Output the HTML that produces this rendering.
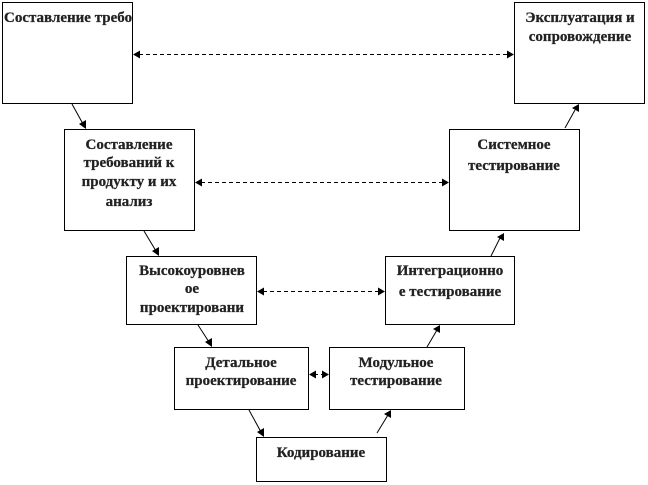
<!DOCTYPE html>
<html lang="ru">
<head>
<meta charset="utf-8">
<style>
html,body{margin:0;padding:0;background:#fff;width:648px;height:485px;overflow:hidden}
svg{display:block}
text{font-family:"Liberation Serif","Noto Serif CJK SC",serif;font-weight:bold;font-size:15px;fill:#222;stroke:#222;stroke-width:.25;text-anchor:middle}
rect{fill:#fff;stroke:#000;stroke-width:1}
line{stroke:#000;stroke-width:1}
.d{stroke-dasharray:4 3}
polygon{fill:#000}
</style>
</head>
<body>
<svg width="648" height="485" viewBox="0 0 648 485" xmlns="http://www.w3.org/2000/svg">
<rect x="2.5" y="2.5" width="130" height="101"/>
<rect x="64.5" y="129.5" width="130" height="101"/>
<rect x="514.5" y="2.5" width="130" height="101"/>
<rect x="449.5" y="129.5" width="130" height="101"/>
<rect x="126.5" y="256.5" width="130" height="68"/>
<rect x="385.5" y="256.5" width="129" height="68"/>
<rect x="174.5" y="347.5" width="134" height="62"/>
<rect x="329.5" y="347.5" width="135" height="62"/>
<rect x="256.5" y="437.5" width="130" height="44"/>

<svg x="3" y="3" width="129" height="40"><text x="1" y="19" style="text-anchor:start">Составление требований</text></svg>
<text x="129" y="149">Составление</text>
<text x="129" y="167">требований к</text>
<text x="129" y="186">продукту и их</text>
<text x="129" y="206">анализ</text>
<text x="580" y="22">Эксплуатация и</text>
<text x="580" y="41">сопровождение</text>
<text x="514" y="149">Системное</text>
<text x="514" y="170">тестирование</text>
<text x="192" y="275">Высокоуровнев</text>
<text x="192" y="293">ое</text>
<text x="192" y="312">проектировани</text>
<text x="450" y="275">Интеграционно</text>
<text x="450" y="296">е тестирование</text>
<text x="241" y="367">Детальное</text>
<text x="241" y="385">проектирование</text>
<text x="396" y="367">Модульное</text>
<text x="396" y="385">тестирование</text>
<text x="321" y="457">Кодирование</text>

<line class="d" x1="139" y1="54.5" x2="508" y2="54.5"/>
<polygon points="133,54.5 140,50.5 140,58.5"/>
<polygon points="514,54.5 507,50.5 507,58.5"/>
<line class="d" x1="201" y1="182.5" x2="443" y2="182.5"/>
<polygon points="195,182.5 202,178.5 202,186.5"/>
<polygon points="449,182.5 442,178.5 442,186.5"/>
<line class="d" x1="263" y1="291.5" x2="379" y2="291.5"/>
<polygon points="257,291.5 264,287.5 264,295.5"/>
<polygon points="385,291.5 378,287.5 378,295.5"/>
<line class="d" x1="314" y1="374.5" x2="323" y2="374.5"/>
<polygon points="309,374.5 316,370.5 316,378.5"/>
<polygon points="329,374.5 322,370.5 322,378.5"/>

<line x1="72" y1="104" x2="83" y2="124"/>
<polygon points="86,129 79,124 86,120"/>
<line x1="144" y1="231" x2="156" y2="251"/>
<polygon points="159,256 152,251 159,247"/>
<line x1="198" y1="325" x2="209" y2="342"/>
<polygon points="212,347 205,342 212,338"/>
<line x1="249" y1="410" x2="261" y2="432"/>
<polygon points="264,437 257,432 264,428"/>
<line x1="377" y1="433" x2="388" y2="415"/>
<polygon points="391,410 391,418 384,414"/>
<line x1="427" y1="347" x2="437" y2="330"/>
<polygon points="440,325 440,333 433,329"/>
<line x1="491" y1="256" x2="500" y2="238"/>
<polygon points="504,233 504,241 497,237"/>
<line x1="565" y1="128" x2="575" y2="110"/>
<polygon points="579,104 579,112 572,108"/>
</svg>
</body>
</html>
